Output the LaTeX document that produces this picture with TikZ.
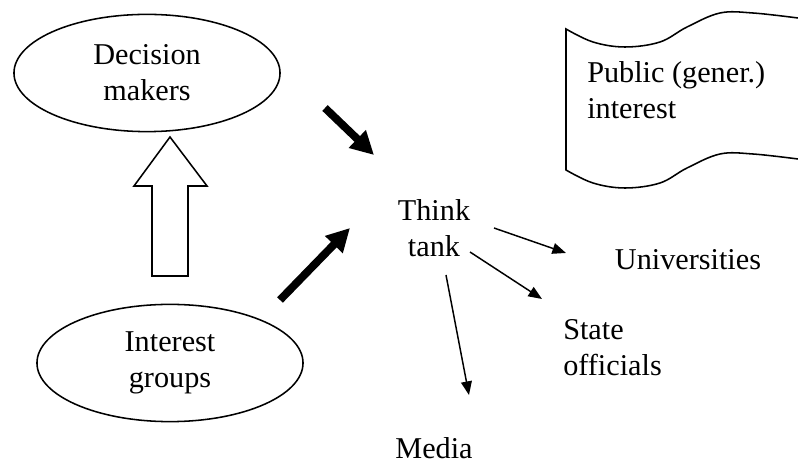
\documentclass[tikz,border=0pt]{standalone}
\usepackage{fontspec}
\setmainfont{Liberation Serif}
\usetikzlibrary{arrows.meta,calc,shapes.geometric}
\tikzset{
  elp/.style={ellipse,draw=black,line width=1.1pt,minimum width=6.65cm,minimum height=2.93cm,inner sep=0pt,align=center},
  txt/.style={inner sep=0pt,align=center},
  fat/.style={-{Triangle[length=5.8mm,width=5.8mm]},line width=5.6pt,draw=black},
  msg/.style={-{Triangle[length=3.4mm,width=2.7mm]},line width=1.05pt,draw=black},
  hol/.style={draw=black,fill=white,line width=1.1pt,line join=miter},
  flg/.style={draw=black,line width=1.1pt},
}

\begin{document}
\begin{tikzpicture}[x=0.025cm,y=-0.025cm,font=\fontsize{21.5}{25.5}\selectfont]
\useasboundingbox (0,0) rectangle (798,464);
% the two actors on the left
\node[elp] (DM) at (147,73) {Decision\\makers};
\node[elp] (IG) at (170,363) {Interest\\groups};
% hollow arrow: interest groups push decision makers
\coordinate (hf) at (170,276); \coordinate (ht) at (170,137);
\draw[hol] ($(hf)+(-18,0)$) -- ++(0,-90) -- ++(-18,0) -- (ht)
  -- ($(hf)+(37,-90)$) -- ++(-19,0) -- ($(hf)+(18,0)$) -- cycle;
% the think tank in the middle
\node[txt] (TT) at (434,228) {Think\\tank};
\coordinate (dmo) at (325,108); \coordinate (tta) at (374,155);
\coordinate (igo) at (280,300); \coordinate (ttb) at (350,228);
\draw[fat] (dmo) -- (tta);
\draw[fat] (igo) -- (ttb);
% where its output goes
\node[txt,anchor=base] (UN) at (688,270) {Universities};
\node[txt,anchor=west,align=left] (SO) at (563,348) {State\\officials};
\node[txt,anchor=base] (ME) at (434,459) {Media};
\coordinate (t1) at (494,228); \coordinate (u1) at (566,253);
\coordinate (t2) at (470,252); \coordinate (s2) at (542,299);
\coordinate (t3) at (446,275); \coordinate (m3) at (469,395);
\draw[msg] (t1) -- (u1);
\draw[msg] (t2) -- (s2);
\draw[msg] (t3) -- (m3);
% the flag, open on the right
\draw[flg] plot[smooth,tension=.6] coordinates {(798,18) (753,13) (720,13) (687,27) (660,42) (625,47) (593,42) (566,29)}
  -- plot[smooth,tension=.6] coordinates {(566,170) (593,183) (625,188) (660,183) (687,168) (720,154) (753,154) (798,159)};
\node[txt,anchor=west,align=left] (PI) at (587,90) {Public (gener.)\\interest};
\end{tikzpicture}
\end{document}
